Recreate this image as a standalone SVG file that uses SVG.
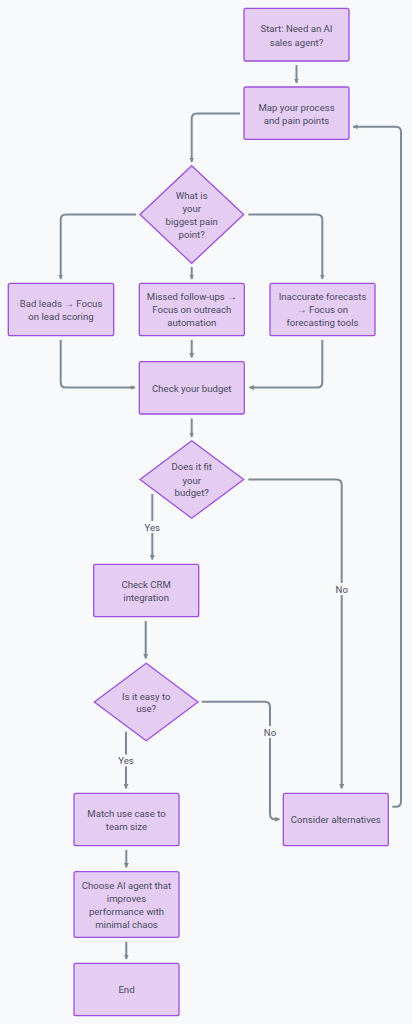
<svg xmlns="http://www.w3.org/2000/svg" width="412" height="1024" viewBox="0 0 412 1024">
<style>
.bg{fill:#f8f9fb}
.node rect,.node polygon{fill:#e4ccf3;stroke:#9c4fdc;stroke-width:1.3}
.node text{font-family:Roboto,"Noto Sans",sans-serif;font-size:9.6px;fill:#4b4b5e;text-anchor:middle;dominant-baseline:central}
.edges path{fill:none;stroke:#7d8a96;stroke-width:2;marker-end:url(#arr)}
.lbl rect{fill:#f8f9fb}
.lbl text{font-family:Roboto,"Noto Sans",sans-serif;font-size:9.6px;fill:#4b4b5e;text-anchor:middle;dominant-baseline:central}
</style>
<defs>
<marker id="arr" viewBox="0 0 10 10" refX="9" refY="5" markerWidth="5" markerHeight="5" markerUnits="userSpaceOnUse" orient="auto">
<path d="M0,0 L10,5 L0,10 z" fill="#7d8a96"/>
</marker>
</defs>
<rect class="bg" x="0" y="0" width="412" height="1024"/>
<g class="edges" id="connectors">
<path d="M296.5,65 V83"/>
<path d="M240,113.5 H197 Q191.7,113.5 191.7,118.8 V162"/>
<path d="M136,214.5 H66 Q60.7,214.5 60.7,219.8 V279"/>
<path d="M191.7,267 V279"/>
<path d="M248.3,214.5 H317 Q322.3,214.5 322.3,219.8 V279"/>
<path d="M60.7,340 V382.2 Q60.7,387.5 66,387.5 H135"/>
<path d="M191.7,340 V357.5"/>
<path d="M322.3,340 V382.2 Q322.3,387.5 317,387.5 H249.5"/>
<path d="M191.7,418.5 V437"/>
<path d="M152.3,494 V559.5"/>
<path d="M248.3,479.5 H336.4 Q341.7,479.5 341.7,484.8 V788.5"/>
<path d="M145.7,621 V658.5"/>
<path d="M126,731.7 V788.5"/>
<path d="M201.7,701.7 H264.7 Q270,701.7 270,707 V814 Q270,819.3 275.3,819.3 H279.5"/>
<path d="M392.3,806.7 H395.7 Q401,806.7 401,801.4 V132 Q401,126.7 395.7,126.7 H353"/>
<path d="M126.3,850 V867.5"/>
<path d="M126.3,941.7 V959"/>
</g>
<g class="lbl" id="edge-labels">
<rect x="143" y="521" width="19" height="12"/><text x="152.3" y="527">Yes</text>
<rect x="334" y="583" width="16" height="12"/><text x="341.7" y="589.3">No</text>
<rect x="116.5" y="754.5" width="19" height="12"/><text x="126" y="760.7">Yes</text>
<rect x="262" y="726" width="16" height="12"/><text x="270" y="732">No</text>
</g>
<g class="node" id="start"><rect x="244" y="8.3" width="105" height="52.7" rx="2"/><text x="296.5" y="28.7">Start: Need an AI</text><text x="296.5" y="42">sales agent?</text></g>
<g class="node" id="map"><rect x="244" y="87" width="105" height="52.3" rx="2"/><text x="296.5" y="107.3">Map your process</text><text x="296.5" y="120.3">and pain points</text></g>
<g class="node" id="pain"><polygon points="191.7,165.7 243.7,214.5 191.7,263.3 140,214.5"/><text x="191.7" y="195">What is</text><text x="191.7" y="208.5">your</text><text x="191.7" y="221.7">biggest pain</text><text x="191.7" y="234.5">point?</text></g>
<g class="node" id="badleads"><rect x="8.3" y="283.3" width="105.4" height="52.4" rx="2"/><text x="61" y="303.3">Bad leads → Focus</text><text x="61" y="316.3">on lead scoring</text></g>
<g class="node" id="missed"><rect x="139.3" y="283.3" width="105" height="52.4" rx="2"/><text x="191.8" y="296.7">Missed follow-ups →</text><text x="191.8" y="309.7">Focus on outreach</text><text x="191.8" y="322.7">automation</text></g>
<g class="node" id="inaccurate"><rect x="270" y="283.3" width="105" height="52.4" rx="2"/><text x="322.5" y="296.7">Inaccurate forecasts</text><text x="322.5" y="309.7">→ Focus on</text><text x="322.5" y="322.7">forecasting tools</text></g>
<g class="node" id="budget"><rect x="139.3" y="361.7" width="105" height="52.3" rx="2"/><text x="191.8" y="388">Check your budget</text></g>
<g class="node" id="fit"><polygon points="191.7,440.7 243.7,479.5 191.7,518.3 140,479.5"/><text x="191.7" y="466.7">Does it fit</text><text x="191.7" y="480">your</text><text x="191.7" y="492.7">budget?</text></g>
<g class="node" id="crm"><rect x="93.7" y="564.3" width="105" height="52.4" rx="2"/><text x="146.2" y="584.3">Check CRM</text><text x="146.2" y="597.3">integration</text></g>
<g class="node" id="easy"><polygon points="146.2,663.3 198,702 146.2,740.7 94.3,702"/><text x="146.2" y="696">Is it easy to</text><text x="146.2" y="708.7">use?</text></g>
<g class="node" id="match"><rect x="74" y="793.3" width="105" height="52.4" rx="2"/><text x="126.5" y="813.3">Match use case to</text><text x="126.5" y="826.3">team size</text></g>
<g class="node" id="consider"><rect x="283.3" y="793.3" width="105" height="52.4" rx="2"/><text x="335.8" y="819.3">Consider alternatives</text></g>
<g class="node" id="choose"><rect x="74" y="871.7" width="105" height="65.6" rx="2"/><text x="126.5" y="885.3">Choose AI agent that</text><text x="126.5" y="898.5">improves</text><text x="126.5" y="911.7">performance with</text><text x="126.5" y="924.7">minimal chaos</text></g>
<g class="node" id="end"><rect x="74" y="963.3" width="105" height="52.4" rx="2"/><text x="126.5" y="989.7">End</text></g>
</svg>
